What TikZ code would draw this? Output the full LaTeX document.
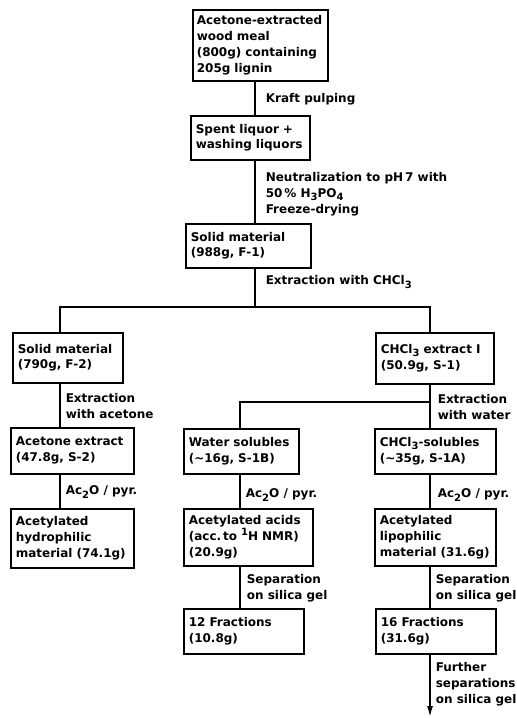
\documentclass[tikz,border=0pt]{standalone}
\usepackage{fontspec}
\setmainfont{DejaVu Sans}
\usetikzlibrary{arrows.meta}
\newcommand\lowx[1]{\raisebox{-0.5ex}{\fontsize{10}{10}\selectfont #1}}
\newcommand\highx[1]{\raisebox{0.75ex}{\fontsize{10}{10}\selectfont #1}}
\begin{document}
\begin{tikzpicture}[x=1pt,y=-1pt,line width=1.6pt,
  every node/.style={font=\fontsize{12}{15.8}\selectfont\bfseries},
  box/.style={draw,rectangle,anchor=north west,align=left,inner xsep=5pt,inner ysep=0pt,line width=1.6pt},
  lbl/.style={anchor=west,align=left,inner sep=0pt},
  conn/.style={line width=1.6pt}]
\useasboundingbox (0,0) rectangle (517,718);
% column coordinates
\coordinate (tr) at (255,0);
\coordinate (cL) at (60,0);
\coordinate (cM) at (240,0);
\coordinate (cR) at (430,0);
% boxes
\node[box,inner xsep=4pt,minimum width=135pt,minimum height=71pt,text width=127pt] (b1) at (192,9)
  {Acetone-extracted\\wood meal\\(800g) containing\\205g lignin};
\node[box,minimum width=119pt,minimum height=44pt,text width=109pt] (b2) at (190,115)
  {Spent liquor +\\washing liquors};
\node[box,minimum width=125pt,minimum height=44pt,text width=115pt] (b3) at (185,223)
  {Solid material\\(988g, F-1)};
\node[box,minimum width=110pt,minimum height=50pt,text width=100pt] (b4) at (12,332)
  {Solid material\\(790g, F-2)};
\node[box,minimum width=118pt,minimum height=51pt,text width=108pt] (b5) at (375,332)
  {CHCl\lowx{3} extract I\\(50.9g, S-1)};
\node[box,minimum width=123pt,minimum height=46pt,text width=113pt] (b6) at (10,427)
  {Acetone extract\\(47.8g, S-2)};
\node[box,minimum width=123pt,minimum height=59pt,text width=113pt] (b7) at (10,508)
  {Acetylated\\hydrophilic\\material (74.1g)};
\node[box,minimum width=115pt,minimum height=45pt,text width=105pt] (b8) at (183,428)
  {Water solubles\\(\textasciitilde16g, S-1B)};
\node[box,minimum width=121pt,minimum height=45pt,text width=111pt] (b9) at (374,428)
  {CHCl\lowx{3}-solubles\\(\textasciitilde35g, S-1A)};
\node[box,minimum width=129pt,minimum height=57pt,text width=119pt] (b10) at (183,508)
  {Acetylated acids\\(acc.\,to \highx{1}H NMR)\\(20.9g)};
\node[box,minimum width=121pt,minimum height=57pt,text width=111pt] (b11) at (374,508)
  {Acetylated\\lipophilic\\material (31.6g)};
\node[box,minimum width=120pt,minimum height=45pt,text width=110pt] (b12) at (183,608)
  {12 Fractions\\(10.8g)};
\node[box,minimum width=120pt,minimum height=45pt,text width=110pt] (b13) at (375,608)
  {16 Fractions\\(31.6g)};
% labels
\node[lbl] (l1) at (265,99) {Kraft pulping};
\node[lbl] (l2) at (265,194) {Neutralization to pH\,7 with\\50\,\% H\lowx{3}PO\lowx{4}\\Freeze-drying};
\node[lbl] (l3) at (265,282) {Extraction with CHCl\lowx{3}};
\node[lbl] (l4) at (65,406) {Extraction\\with acetone};
\node[lbl] (l5) at (437,407) {Extraction\\with water};
\node[lbl] (l6) at (65,492) {Ac\lowx{2}O / pyr.};
\node[lbl] (l7) at (245,495) {Ac\lowx{2}O / pyr.};
\node[lbl] (l8) at (437,495) {Ac\lowx{2}O / pyr.};
\node[lbl] (l9) at (246,588) {Separation\\on silica gel};
\node[lbl] (l10) at (435,588) {Separation\\on silica gel};
\node[lbl] (l11) at (435,684) {Further\\separations\\on silica gel};
% connectors
\coordinate (j1) at (255,307);
\coordinate (j2) at (430,402);
\coordinate (endp) at (430,717);
\draw[conn] (b1.south -| tr) -- (b2.north -| tr);
\draw[conn] (b2.south -| tr) -- (b3.north -| tr);
\draw[conn] (b3.south -| tr) -- (j1);
\draw[conn] (b4.north -| cL) -- (cL |- j1) -- (cR |- j1) -- (b5.north -| cR);
\draw[conn] (b4.south -| cL) -- (b6.north -| cL);
\draw[conn] (b6.south -| cL) -- (b7.north -| cL);
\draw[conn] (b5.south -| cR) -- (b9.north -| cR);
\draw[conn] (j2) -- (cM |- j2) -- (b8.north -| cM);
\draw[conn] (b8.south -| cM) -- (b10.north -| cM);
\draw[conn] (b10.south -| cM) -- (b12.north -| cM);
\draw[conn] (b9.south -| cR) -- (b11.north -| cR);
\draw[conn] (b11.south -| cR) -- (b13.north -| cR);
\draw[conn,-{Latex[length=11pt,width=6pt]}] (b13.south -| cR) -- (endp);
\end{tikzpicture}
\end{document}
